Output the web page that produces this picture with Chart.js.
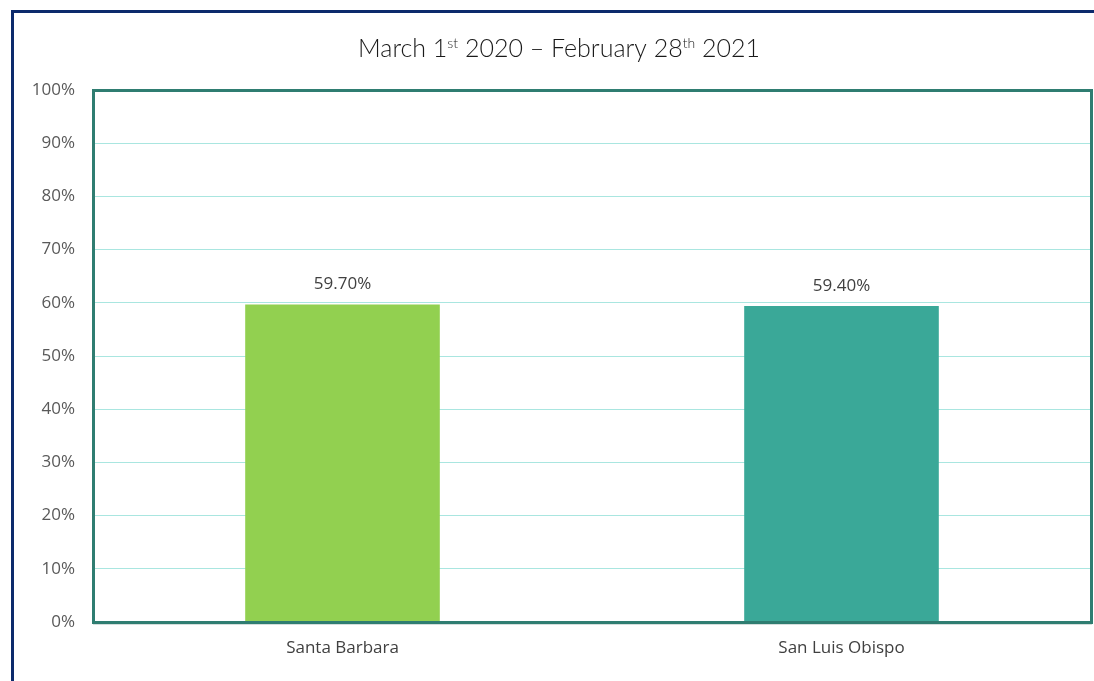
<!DOCTYPE html>
<html>
<head>
<meta charset="utf-8">
<script src="https://cdn.jsdelivr.net/npm/chart.js@4"></script>
<style>
  html, body { margin: 0; padding: 0; background: #fff; }
  #wrap { width: 1094px; height: 681px; position: relative; }
</style>
</head>
<body>
<div id="wrap"><canvas id="chart" width="1094" height="681"></canvas></div>
<script>
// ================= DATA =================
const categories = ["Santa Barbara", "San Luis Obispo"];
const values = [59.7, 59.4];
const barColors = ["#92d050", "#3aa898"];
const titleParts = [
  { text: "March 1", sup: false },
  { text: "st", sup: true },
  { text: " 2020 \u2013 February 28", sup: false },
  { text: "th", sup: true },
  { text: " 2021", sup: false }
];

// ================= PLUGINS =================
const frame = {
  id: "frame",
  beforeDraw(chart) {
    const ctx = chart.ctx;
    ctx.save();
    ctx.fillStyle = "#fff";
    ctx.fillRect(0, 0, chart.width, chart.height);
    // outer navy border
    ctx.strokeStyle = "#0c2a6c";
    ctx.lineWidth = 3;
    ctx.beginPath();
    ctx.moveTo(12.5, chart.height + 5);
    ctx.lineTo(12.5, 11.5);
    ctx.lineTo(chart.width + 5, 11.5);
    ctx.stroke();
    ctx.restore();
  },
  afterDatasetsDraw(chart) {
    const ctx = chart.ctx;
    const a = chart.chartArea;
    ctx.save();
    // light shadow under axis
    ctx.strokeStyle = "#d5dedc";
    ctx.lineWidth = 2;
    ctx.beginPath();
    ctx.moveTo(a.left, a.bottom + 2);
    ctx.lineTo(a.right + 1, a.bottom + 2);
    ctx.stroke();
    ctx.strokeStyle = "#2f7d71";
    ctx.lineWidth = 3;
    ctx.strokeRect(a.left + 0.5, a.top + 0.5, a.right - a.left, a.bottom - a.top);
    ctx.restore();
  }
};

const valueLabels = {
  id: "valueLabels",
  afterDatasetsDraw(chart) {
    const ctx = chart.ctx;
    const meta = chart.getDatasetMeta(0);
    ctx.save();
    ctx.font = "17px 'Open Sans'";
    ctx.fillStyle = "#404040";
    ctx.textAlign = "center";
    ctx.textBaseline = "middle";
    meta.data.forEach((bar, i) => {
      ctx.fillText(values[i].toFixed(2) + "%", bar.x, bar.y - 20);
    });
    ctx.restore();
  }
};

const supTitle = {
  id: "supTitle",
  afterDraw(chart) {
    const ctx = chart.ctx;
    const mainFont = "300 25px Lato";
    const supFont = "300 14px Lato";
    ctx.save();
    ctx.fillStyle = "#1a1a1a";
    ctx.textBaseline = "alphabetic";
    let total = 0;
    titleParts.forEach(p => {
      ctx.font = p.sup ? supFont : mainFont;
      total += ctx.measureText(p.text).width;
    });
    let x = 559 - total / 2;
    const base = 57;
    titleParts.forEach(p => {
      ctx.font = p.sup ? supFont : mainFont;
      ctx.fillText(p.text, x, p.sup ? base - 9 : base);
      x += ctx.measureText(p.text).width;
    });
    ctx.restore();
  }
};

// ================= CHART =================
new Chart(document.getElementById("chart"), {
  type: "bar",
  data: {
    labels: categories,
    datasets: [{
      data: values,
      backgroundColor: barColors,
      borderWidth: 0,
      categoryPercentage: 0.39,
      barPercentage: 1.0
    }]
  },
  options: {
    responsive: false,
    animation: false,
    layout: { padding: { top: 90, right: 3, left: 0, bottom: 0 } },
    plugins: {
      legend: { display: false },
      tooltip: { enabled: false }
    },
    scales: {
      x: {
        grid: { display: false, drawTicks: false },
        border: { display: false },
        ticks: { color: "#404040", font: { family: "'Open Sans'", size: 17 }, padding: 16 },
        afterFit(scale) { scale.height = 59; }
      },
      y: {
        min: 0,
        max: 100,
        ticks: {
          stepSize: 10,
          padding: 18,
          color: "#595959",
          font: { family: "'Open Sans'", size: 17 },
          callback: v => v + "%"
        },
        grid: { color: "#a9e6e0", lineWidth: 1, drawTicks: false },
        border: { display: false },
        afterFit(scale) { scale.width = 93; }
      }
    }
  },
  plugins: [frame, valueLabels, supTitle]
});
</script>
</body>
</html>
